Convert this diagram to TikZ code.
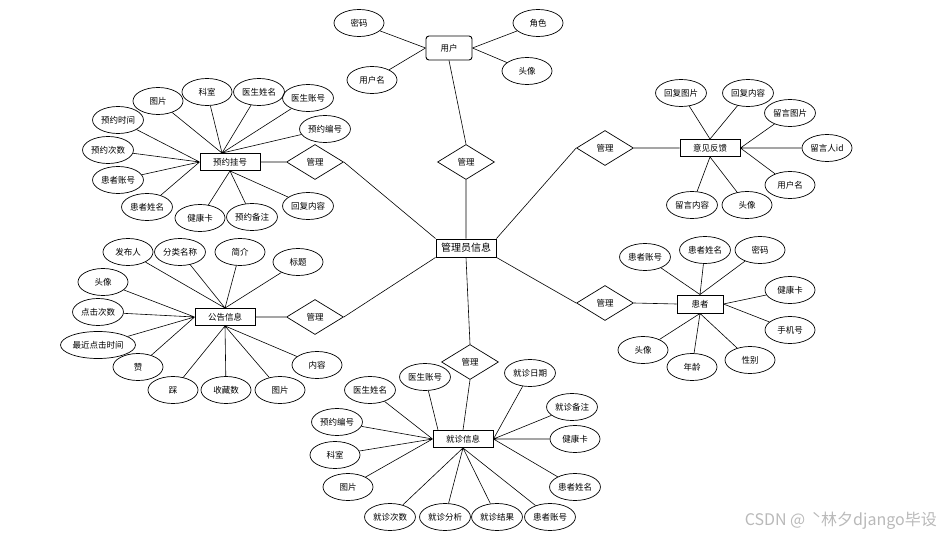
\documentclass[tikz,border=0pt]{standalone}
\usepackage{fontspec}
\setmainfont{Noto Sans CJK SC}
\usetikzlibrary{shapes.geometric}

\begin{document}
\begin{tikzpicture}[
    x=1pt, y=-1pt,
    font=\fontsize{8.5}{10}\selectfont,
    box/.style={rectangle, draw, line width=0.9pt, minimum width=60pt, minimum height=17pt, inner sep=1pt},
    attr/.style={ellipse, draw, line width=0.7pt, minimum width=50pt, minimum height=27pt, inner sep=1pt},
    rel/.style={diamond, draw, line width=0.7pt, aspect=1.6, minimum width=57pt, minimum height=35pt, inner sep=0pt},
    line/.style={line width=0.6pt},
]
\useasboundingbox (0,0) rectangle (941,537);

\node[box, font=\fontsize{10}{12}\selectfont, minimum height=18pt] (admin) at (466,248) {管理员信息};

\node[box, rounded corners=3pt, minimum width=46pt, minimum height=24pt] (user) at (449,48) {用户};
\node[attr] (u1) at (359,23) {密码};
\node[attr] (u2) at (538,23) {角色};
\node[attr] (u3) at (372,80) {用户名};
\node[attr] (u4) at (527,71) {头像};
\node[rel] (r1) at (466,162) {管理};

\node[box] (yy) at (230,162) {预约挂号};
\node[attr] (a1) at (158,101) {图片};
\node[attr] (a2) at (207,92) {科室};
\node[attr] (a3) at (259,92) {医生姓名};
\node[attr] (a4) at (308,98) {医生账号};
\node[attr] (a5) at (325,129) {预约编号};
\node[attr] (a6) at (118,120) {预约时间};
\node[attr] (a7) at (108,150) {预约次数};
\node[attr] (a8) at (118,180) {患者账号};
\node[attr] (a9) at (147,207) {患者姓名};
\node[attr] (a10) at (200,218) {健康卡};
\node[attr] (a11) at (252,217) {预约备注};
\node[attr] (a12) at (308,206) {回复内容};
\node[rel] (r2) at (315,162) {管理};

\node[box] (yj) at (710,148) {意见反馈};
\node[attr] (b1) at (681,93) {回复图片};
\node[attr] (b2) at (748,93) {回复内容};
\node[attr] (b3) at (790,113) {留言图片};
\node[attr] (b4) at (827,148) {留言人id};
\node[attr] (b5) at (790,185) {用户名};
\node[attr] (b6) at (692,205) {留言内容};
\node[attr] (b7) at (747,205) {头像};
\node[rel] (r3) at (605,148) {管理};

\node[box] (gg) at (225,317) {公告信息};
\node[attr] (c1) at (128,252) {发布人};
\node[attr] (c2) at (180,252) {分类名称};
\node[attr] (c3) at (240,252) {简介};
\node[attr] (c4) at (298,262) {标题};
\node[attr] (c5) at (103,282) {头像};
\node[attr] (c6) at (98,312) {点击次数};
\node[attr] (c7) at (98,345) {最近点击时间};
\node[attr] (c8) at (138,367) {赞};
\node[attr] (c9) at (173,390) {踩};
\node[attr] (c10) at (226,390) {收藏数};
\node[attr] (c11) at (280,390) {图片};
\node[attr] (c12) at (317,365) {内容};
\node[rel] (r4) at (315,317) {管理};

\node[box, minimum width=46pt, minimum height=18pt] (hz) at (700,304) {患者};
\node[attr] (d1) at (645,257) {患者账号};
\node[attr] (d2) at (705,250) {患者姓名};
\node[attr] (d3) at (760,250) {密码};
\node[attr] (d4) at (790,290) {健康卡};
\node[attr] (d5) at (790,330) {手机号};
\node[attr] (d6) at (643,350) {头像};
\node[attr] (d7) at (692,367) {年龄};
\node[attr] (d8) at (750,360) {性别};
\node[rel] (r5) at (605,303) {管理};

\node[box] (jz) at (463,439) {就诊信息};
\node[attr] (e1) at (370,390) {医生姓名};
\node[attr] (e2) at (425,377) {医生账号};
\node[attr] (e3) at (530,373) {就诊日期};
\node[attr] (e4) at (572,407) {就诊备注};
\node[attr] (e5) at (575,439) {健康卡};
\node[attr] (e6) at (575,487) {患者姓名};
\node[attr] (e7) at (337,422) {预约编号};
\node[attr] (e8) at (335,455) {科室};
\node[attr] (e9) at (348,487) {图片};
\node[attr] (e10) at (390,517) {就诊次数};
\node[attr] (e11) at (445,517) {就诊分析};
\node[attr] (e12) at (497,517) {就诊结果};
\node[attr] (e13) at (550,517) {患者账号};
\node[rel] (r6) at (470,362) {管理};

\node[text=gray!55, font=\fontsize{16}{18}\selectfont, anchor=east, inner sep=0pt] (mark) at (937,521) {CSDN @ \,ˋ林夕django毕设};

\draw[line] (u1) -- (user.west) (u3) -- (user.west) (u2) -- (user.east) (u4) -- (user.east);
\draw[line] (user.south) -- (r1.north) (r1.south) -- (admin.north);

\draw[line] (a1) -- ([xshift=-8pt]yy.north) (a2) -- ([xshift=-8pt]yy.north) (a3) -- ([xshift=-8pt]yy.north) (a4) -- ([xshift=-8pt]yy.north) (a5) -- ([xshift=-8pt]yy.north);
\draw[line] (a6) -- (yy.west) (a7) -- (yy.west) (a8) -- (yy.west) (a9) -- (yy.west);
\draw[line] (a10) -- (yy.south) (a11) -- (yy.south) (a12) -- (yy.south);
\draw[line] (yy.east) -- (r2.west) (r2.east) -- (admin.north west);

\draw[line] (b1) -- (yj.north) (b2) -- (yj.north);
\draw[line] (b3) -- (yj.east) (b4) -- (yj.east) (b5) -- (yj.east);
\draw[line] (b6) -- (yj.south) (b7) -- (yj.south);
\draw[line] (r3.east) -- (yj.west) (r3.west) -- (admin.north east);

\draw[line] (c1) -- (gg.north) (c2) -- (gg.north) (c3) -- (gg.north) (c4) -- (gg.north);
\draw[line] (c5) -- (gg.west) (c6) -- (gg.west) (c7) -- (gg.west) (c8) -- (gg.west);
\draw[line] (c9) -- (gg.south) (c10) -- (gg.south) (c11) -- (gg.south) (c12) -- (gg.south);
\draw[line] (gg.east) -- (r4.west) (r4.east) -- (admin.south west);

\draw[line] (d1) -- (hz.north) (d2) -- (hz.north) (d3) -- (hz.north);
\draw[line] (d4) -- (hz.east) (d5) -- (hz.east);
\draw[line] (d6) -- (hz.south) (d7) -- (hz.south) (d8) -- (hz.south);
\draw[line] (r5.east) -- (hz.west) (admin.south east) -- (r5.west);

\draw[line] (e2) -- ([xshift=-25pt]jz.north);
\draw[line] (e1) -- (jz.west) (e7) -- (jz.west) (e8) -- (jz.west) (e9) -- (jz.west);
\draw[line] (e3) -- (jz.east) (e4) -- (jz.east) (e5) -- (jz.east) (e6) -- (jz.east);
\draw[line] (e10) -- (jz.south) (e11) -- (jz.south) (e12) -- (jz.south) (e13) -- (jz.south);
\draw[line] (admin.south) -- (r6.north) (r6.south) -- (jz.north);
\end{tikzpicture}
\end{document}
